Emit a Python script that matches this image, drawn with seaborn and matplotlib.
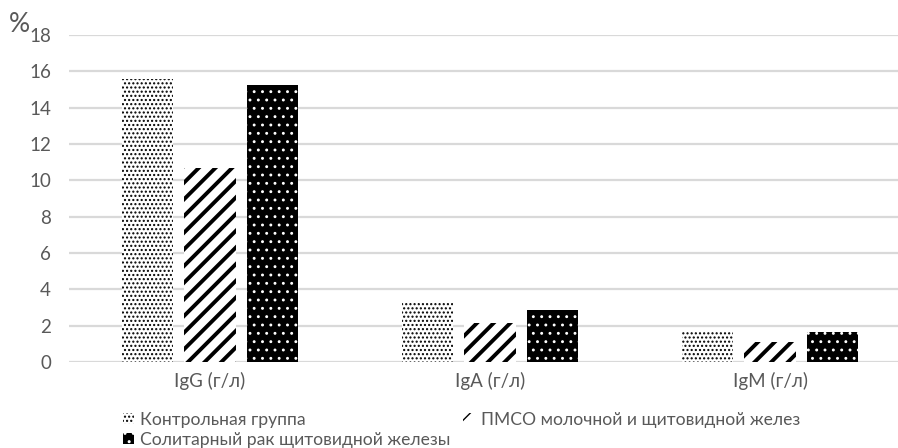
import matplotlib
matplotlib.use("Agg")
import matplotlib.pyplot as plt
import seaborn as sns
import pandas as pd

categories = ["IgG (г/л)", "IgA (г/л)", "IgM (г/л)"]
groups = ["Контрольная группа", "ПМСО молочной и щитовидной желез",
          "Солитарный рак щитовидной железы"]
control = [15.6, 3.23, 1.63]
pmso = [10.7, 2.13, 1.12]
solitary = [15.25, 2.86, 1.63]
yticks = [0, 2, 4, 6, 8, 10, 12, 14, 16, 18]

sns.set_theme(style="white")
plt.rcParams['font.family'] = ['Lato', 'DejaVu Sans']
plt.rcParams['hatch.linewidth'] = 1.0
TXT = "#595959"

rows = []
for g, vals in zip(groups, [control, pmso, solitary]):
    for c, v in zip(categories, vals):
        rows.append({"cat": c, "group": g, "val": v})
df = pd.DataFrame(rows)

fig = plt.figure(figsize=(8.98, 4.48), dpi=100)
W, H = 898, 448
ax = fig.add_axes([69 / W, (H - 362) / H, (W - 69) / W, (362 - 35) / H])

sns.barplot(data=df, x="cat", y="val", hue="group", hue_order=groups,
            order=categories, width=0.67, gap=0.18, ax=ax, legend=False,
            errorbar=None)

styles = [
    dict(face="white", hatch_color="black", hatch="....", hlw=1.0),
    dict(face="white", hatch_color="black", hatch="//", hlw=2.8),
    dict(face="black", hatch_color="white", hatch="..", hlw=0.9),
]
for cont, st in zip(ax.containers, styles):
    for p in cont.patches:
        p.set_facecolor(st["face"])
        p.set_edgecolor(st["hatch_color"])
        p.set_hatch(st["hatch"])
        p.set_linewidth(0)
        if hasattr(p, "set_hatch_linewidth"):
            p.set_hatch_linewidth(st["hlw"])
        else:
            p._hatch_linewidth = st["hlw"]
        p.set_zorder(3)

ax.set_xlim(-0.5036, 2.457)
ax.set_ylim(0, 18)
ax.set_yticks(yticks)
ax.set_yticklabels([str(t) for t in yticks])
ax.yaxis.grid(True, color="#d9d9d9", linewidth=1.6, zorder=0)
ax.set_axisbelow(True)
for s in ax.spines.values():
    s.set_visible(False)
ax.tick_params(axis="y", length=0, pad=13, labelsize=13.5, labelcolor=TXT)
ax.tick_params(axis="x", length=0, pad=7, labelsize=13.5, labelcolor=TXT)
ax.set_xlabel("")
ax.set_ylabel("")

fig.text(9 / W, 1 - 25 / H, "%", fontsize=19, color=TXT, va="center", ha="left")

handles = [ax.containers[0].patches[0], ax.containers[2].patches[0],
           ax.containers[1].patches[0]]
labels = [groups[0], groups[2], groups[1]]
leg = fig.legend(handles, labels, ncol=2, loc="upper left",
                 bbox_to_anchor=(123 / W, 1 - 412 / H), frameon=False,
                 fontsize=12.6, handlelength=0.6, handleheight=0.6,
                 handletextpad=0.4, columnspacing=0.7, labelspacing=0.2,
                 borderpad=0, borderaxespad=0)
for t in leg.get_texts():
    t.set_color(TXT)

fig.savefig("out.png", dpi=100)
